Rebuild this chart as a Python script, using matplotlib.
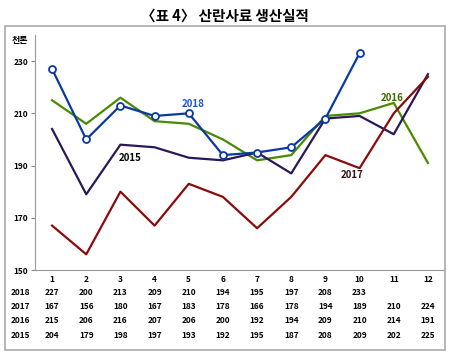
import matplotlib.pyplot as plt
from matplotlib.patches import Rectangle

plt.rcParams['font.family'] = ['Noto Sans CJK KR', 'DejaVu Sans']

months = list(range(1, 13))
v2018 = [227, 200, 213, 209, 210, 194, 195, 197, 208, 233]
v2017 = [167, 156, 180, 167, 183, 178, 166, 178, 194, 189, 210, 224]
v2016 = [215, 206, 216, 207, 206, 200, 192, 194, 209, 210, 214, 191]
v2015 = [204, 179, 198, 197, 193, 192, 195, 187, 208, 209, 202, 225]

years = ["2018", "2017", "2016", "2015"]
rows = [v2018, v2017, v2016, v2015]

c2018 = "#0a3aa0"
c2017 = "#8b0a0a"
c2016 = "#4a8a00"
c2015 = "#2a1858"

fig = plt.figure(figsize=(4.5, 3.53), dpi=100)
fig.patches.append(Rectangle((5 / 450, 3 / 353), 440 / 450, 324 / 353,
                             transform=fig.transFigure, fill=False,
                             edgecolor="#aaaaaa", linewidth=1.2))
fig.text(0.5, 0.955, "〈표 4〉 산란사료 생산실적", ha="center", va="center",
         fontsize=10.5, fontweight="bold")

ax = fig.add_axes([35 / 450, 1 - 270 / 353, 410 / 450, 235 / 353])
ax.plot(months[:len(v2016)], v2016, color=c2016, lw=1.6)
ax.plot(months, v2015, color=c2015, lw=1.6)
ax.plot(months, v2017, color=c2017, lw=1.6)
ax.plot(months[:len(v2018)], v2018, color=c2018, lw=1.6, marker="o",
        markersize=5, markerfacecolor="white", markeredgecolor=c2018,
        markeredgewidth=1.3)

ax.set_xlim(0.5, 12.5)
ax.set_ylim(150, 240)
ax.set_yticks([150, 170, 190, 210, 230])
ax.set_xticks([])
ax.tick_params(axis="y", labelsize=6, length=3, color="#888888", pad=2)
for lab in ax.get_yticklabels():
    lab.set_fontweight("bold")
for s in ["top", "right"]:
    ax.spines[s].set_visible(False)
ax.spines["left"].set_color("#999999")
ax.spines["bottom"].set_color("#999999")

# series labels
ax.text(5.12, 213.5, "2018", color="#1a56d0", fontsize=7, fontweight="bold",
        ha="center", va="center")
ax.text(3.28, 192.8, "2015", color="black", fontsize=7, fontweight="bold",
        ha="center", va="center")
ax.text(9.77, 186.3, "2017", color="#3a1010", fontsize=7, fontweight="bold",
        ha="center", va="center")
ax.text(10.94, 215.8, "2016", color="#3a6a00", fontsize=7, fontweight="bold",
        ha="center", va="center")

fig.text(20 / 450, 1 - 40 / 353, "천톤", fontsize=6.5, fontweight="bold",
         ha="center", va="center")

# data table under the chart, columns lined up with the months
trans = ax.get_xaxis_transform()
row_y = [-0.04, -0.097, -0.157, -0.217, -0.277]
for m in months:
    ax.text(m, row_y[0], str(m), transform=trans, fontsize=6,
            fontweight="bold", ha="center", va="center", clip_on=False)
for yr, vals, y in zip(years, rows, row_y[1:]):
    ax.text(-0.035, y, yr, transform=ax.transAxes, fontsize=6,
            fontweight="bold", ha="center", va="center", clip_on=False)
    for m, v in zip(months, vals):
        ax.text(m, y, str(v), transform=trans, fontsize=6,
                fontweight="bold", ha="center", va="center", clip_on=False)

fig.savefig("out.png", dpi=100)
